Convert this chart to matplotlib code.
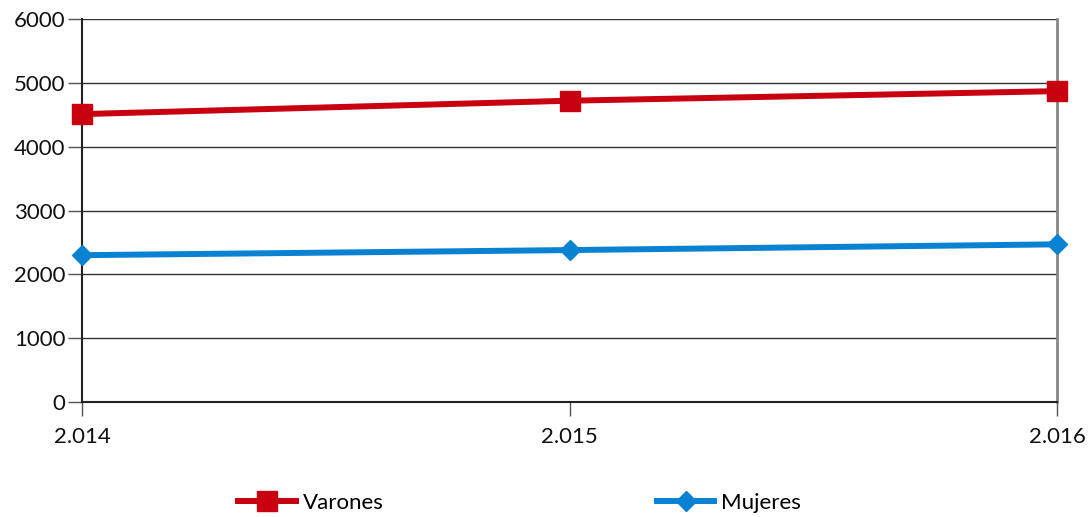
import matplotlib
matplotlib.use("Agg")
import matplotlib.pyplot as plt

# Data
years = [2014, 2015, 2016]
year_labels = ["2.014", "2.015", "2.016"]
varones = [4510, 4720, 4870]
mujeres = [2300, 2380, 2470]
y_ticks = [0, 1000, 2000, 3000, 4000, 5000, 6000]

plt.rcParams['font.family'] = ['Lato', 'DejaVu Sans']

W, H = 1090, 517
fig = plt.figure(figsize=(W / 100, H / 100), dpi=100)
ax = fig.add_axes([82 / W, 1 - 402 / H, (1057 - 82) / W, (402 - 19) / H])

red = "#C8000F"
blue = "#0A82D2"

ax.plot(years, varones, color=red, lw=4.3, marker="s", markersize=14,
        label="Varones", zorder=4, clip_on=False)
ax.plot(years, mujeres, color=blue, lw=4.3, marker="D", markersize=10,
        label="Mujeres", zorder=4, clip_on=False)

ax.set_xlim(years[0], years[-1])
ax.set_ylim(0, 6000)
ax.set_yticks(y_ticks)
ax.set_yticklabels([str(v) for v in y_ticks])
ax.set_xticks(years)
ax.set_xticklabels(year_labels)

ax.yaxis.grid(True, color="#333333", lw=1)
ax.set_axisbelow(True)

for s in ["left", "bottom"]:
    ax.spines[s].set_color("#222222")
    ax.spines[s].set_linewidth(1.5)
ax.spines["top"].set_visible(False)
ax.spines["right"].set_color("#888888")
ax.spines["right"].set_linewidth(2)

ax.tick_params(axis="y", direction="out", length=10, width=1, color="#555555",
               labelsize=16, pad=2, labelcolor="#111111")
ax.tick_params(axis="x", direction="out", length=10, width=1, color="#555555",
               labelsize=16, pad=8, labelcolor="#111111")

leg = fig.legend(loc="center left", bbox_to_anchor=(218 / W, 1 - 503 / H),
                 ncol=2, frameon=False, fontsize=16, handlelength=2.6,
                 columnspacing=12.3, handletextpad=0.3, borderpad=0.4)

fig.savefig("out.png", dpi=100)
